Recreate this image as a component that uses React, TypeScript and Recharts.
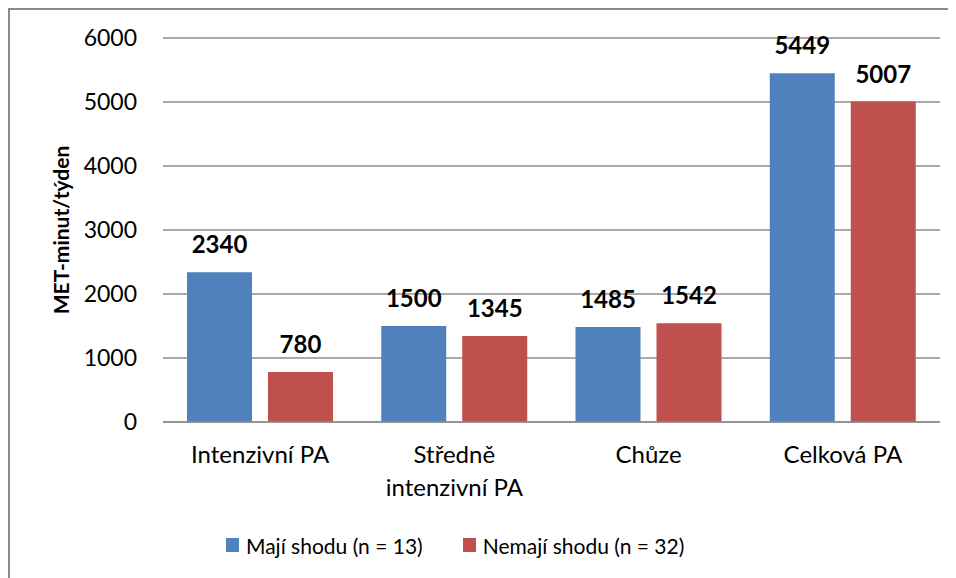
import React from "react";
import { BarChart, Bar, XAxis, YAxis, CartesianGrid, Legend, LabelList } from "recharts";

const categories = ["Intenzivní PA", "Středně\nintenzivní PA", "Chůze", "Celková PA"];
const majiShodu = [2340, 1500, 1485, 5449];
const nemajiShodu = [780, 1345, 1542, 5007];
const yTicks = [0, 1000, 2000, 3000, 4000, 5000, 6000];
const seriesNames = ["Mají shodu (n = 13)", "Nemají shodu (n = 32)"];
const yLabel = "MET-minut/týden";

const colors = ["#4F81BD", "#C0504D"];
const FONT = "Lato, 'Open Sans', sans-serif";
const FS = 23;

const data = categories.map((c, i) => ({ name: c, a: majiShodu[i], b: nemajiShodu[i] }));

const XTick = (props: any) => {
  const { x, y, payload } = props;
  const lines = String(payload.value).split("\n");
  return (
    <text x={x} y={y} textAnchor="middle" fontSize={24} fontFamily={FONT} fill="#000">
      {lines.map((l: string, i: number) => (
        <tspan key={i} x={x} dy={i === 0 ? 41 : 33}>
          {l}
        </tspan>
      ))}
    </text>
  );
};

const LegendContent = () => (
  <div
    style={{
      height: 66,
      display: "flex",
      alignItems: "center",
      paddingLeft: 216,
      fontFamily: FONT,
      fontSize: 21,
      color: "#000",
    }}
  >
    {seriesNames.map((n, i) => (
      <div key={n} style={{ display: "flex", alignItems: "center", marginRight: 40 }}>
        <div style={{ width: 13, height: 14, background: colors[i], marginRight: 7 }} />
        <span>{n}</span>
      </div>
    ))}
  </div>
);

const YLabel = (props: any) => {
  const vb = props.viewBox || { x: 0, y: 28, width: 153, height: 384 };
  const cx = vb.x + 50;
  const cy = vb.y + vb.height / 2;
  return (
    <text
      x={cx}
      y={cy}
      transform={`rotate(-90 ${cx} ${cy})`}
      textAnchor="middle"
      dominantBaseline="central"
      fontSize={21}
      fontWeight="bold"
      fontFamily={FONT}
      fill="#000"
    >
      {yLabel}
    </text>
  );
};

export default function App() {
  return (
    <div
      style={{
        width: 946,
        height: 568,
        borderLeft: "2px solid #8a8a8a",
        borderTop: "2px solid #8a8a8a",
        background: "#fff",
      }}
    >
      <BarChart
        width={946}
        height={568}
        data={data}
        margin={{ top: 28, right: 16, left: 0, bottom: 0 }}
        barGap={16}
        barSize={65}
      >
        <CartesianGrid vertical={false} stroke="#8e8e8e" strokeWidth={1.5} />
        <XAxis
          dataKey="name"
          interval={0}
          tickLine={false}
          tickSize={0}
          tickMargin={0}
          height={90}
          axisLine={{ stroke: "#8e8e8e", strokeWidth: 1.5 }}
          tick={<XTick />}
        />
        <YAxis
          width={153}
          domain={[0, 6000]}
          ticks={yTicks}
          axisLine={false}
          tickLine={false}
          tickSize={6}
          tickMargin={20}
          tick={{ fontSize: FS, fontFamily: FONT, fill: "#000" }}
          label={<YLabel />}
        />
        <Legend verticalAlign="bottom" wrapperStyle={{ left: 0, width: 946 }} content={<LegendContent />} />
        <Bar dataKey="a" name={seriesNames[0]} fill={colors[0]} isAnimationActive={false}>
          <LabelList
            dataKey="a"
            position="top"
            offset={19}
            style={{ fontSize: 24, fontWeight: "bold", fontFamily: FONT, fill: "#000" }}
          />
        </Bar>
        <Bar dataKey="b" name={seriesNames[1]} fill={colors[1]} isAnimationActive={false}>
          <LabelList
            dataKey="b"
            position="top"
            offset={19}
            style={{ fontSize: 24, fontWeight: "bold", fontFamily: FONT, fill: "#000" }}
          />
        </Bar>
      </BarChart>
    </div>
  );
}
